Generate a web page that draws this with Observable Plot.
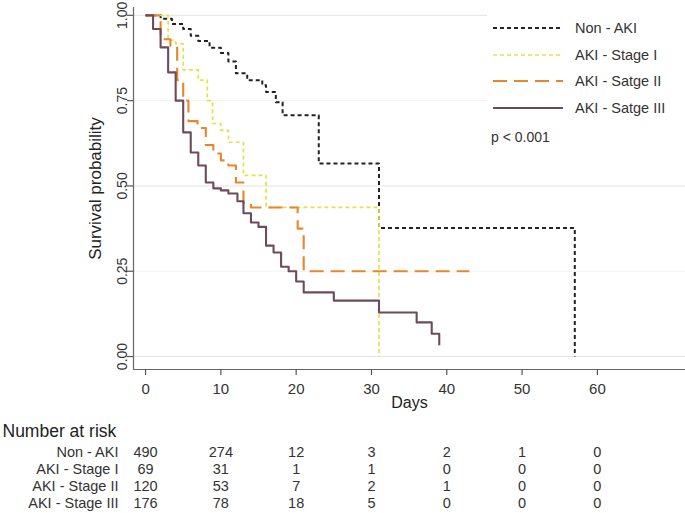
<!DOCTYPE html>
<html>
<head>
<meta charset="utf-8">
<script src="https://cdn.jsdelivr.net/npm/d3@7"></script>
<script src="https://cdn.jsdelivr.net/npm/@observablehq/plot@0.6"></script>
<style>
  body { margin: 0; background: white; font-family: "Liberation Sans", Arial, Helvetica, sans-serif; }
  #wrap { position: relative; width: 685px; height: 513px; overflow: hidden; }
  #wrap svg { display: block; }
  #legend { position: absolute; left: 487px; top: 0px; }
</style>
</head>
<body>
<div id="wrap"></div>
<script>
// ---- data ----
const groupNames = ["Non - AKI", "AKI - Stage I", "AKI - Stage II", "AKI - Stage III"];
const legendNames = ["Non - AKI", "AKI - Stage I", "AKI - Satge II", "AKI - Satge III"];

const nonAkiDays = [0, 2, 3.5, 5, 6, 7, 8.5, 10, 11, 12, 13.5, 15.5, 16, 17.3, 18.2, 23, 31, 57];
const nonAkiSurv = [1, 0.99, 0.975, 0.96, 0.94, 0.925, 0.905, 0.89, 0.865, 0.83, 0.81, 0.795, 0.775, 0.745, 0.707, 0.566, 0.377, 0];

const stage1Days = [0, 3, 4, 5, 7, 8.2, 8.9, 10, 11, 13, 16, 31];
const stage1Surv = [1, 0.927, 0.917, 0.84, 0.81, 0.75, 0.683, 0.663, 0.628, 0.531, 0.437, 0];

const stage2Days = [0, 2, 3.3, 4.2, 5, 5.7, 6.9, 8, 9, 10, 11, 12, 13, 14, 20.2, 21, 43];
const stage2Surv = [1, 0.93, 0.91, 0.81, 0.75, 0.69, 0.67, 0.62, 0.595, 0.575, 0.56, 0.51, 0.45, 0.437, 0.375, 0.25, 0.25];

const stage3Days = [0, 1, 2, 3, 4, 5, 6, 7, 8, 9, 10, 11, 12.2, 13, 14, 15, 16, 17, 18, 19, 20, 21, 25, 31, 36, 38, 39];
const stage3Surv = [1, 0.96, 0.906, 0.833, 0.75, 0.657, 0.598, 0.56, 0.51, 0.493, 0.487, 0.478, 0.455, 0.42, 0.393, 0.38, 0.325, 0.305, 0.263, 0.25, 0.22, 0.188, 0.164, 0.129, 0.1, 0.067, 0.033];

const xTicks = [0, 10, 20, 30, 40, 50, 60];
const yTicks = [0, 0.25, 0.5, 0.75, 1];
const gridMajor = [0, 0.5, 1];
const gridMinor = [0.25, 0.75];

const riskTimes = [0, 10, 20, 30, 40, 50, 60];
const riskNonAki = [490, 274, 12, 3, 2, 1, 0];
const riskStage1 = [69, 31, 1, 1, 0, 0, 0];
const riskStage2 = [120, 53, 7, 2, 1, 0, 0];
const riskStage3 = [176, 78, 18, 5, 0, 0, 0];

const pText = "p < 0.001";

// ---- build tables ----
const curves = [
  {days: nonAkiDays, surv: nonAkiSurv, stroke: "#222222", width: 2, dash: "4,3"},
  {days: stage1Days, surv: stage1Surv, stroke: "#e6e04c", width: 1.7, dash: "4,3"},
  {days: stage2Days, surv: stage2Surv, stroke: "#e8862c", width: 2.1, dash: "14,7"},
  {days: stage3Days, surv: stage3Surv, stroke: "#6d4b5b", width: 2.1, dash: null}
];
const curveRows = curves.map(c => c.days.map((d, i) => ({day: d, surv: c.surv[i]})));

const riskLists = [riskNonAki, riskStage1, riskStage2, riskStage3];
const riskRows = groupNames.flatMap((g, gi) => riskTimes.map((t, i) => ({group: g, day: t, n: riskLists[gi][i]})));

const font = "'Liberation Sans', Arial, Helvetica, sans-serif";
const xDomain = [-1.6, 71.7];
const yDomain = [-0.038, 1.023];

const lineMarks = curves.map((c, i) => Plot.line(curveRows[i], {
  x: "day", y: "surv", curve: "step-after",
  stroke: c.stroke, strokeWidth: c.width,
  strokeDasharray: c.dash || undefined, strokeLinecap: "butt"
}));

const main = Plot.plot({
  width: 685, height: 415,
  marginLeft: 133, marginRight: 0, marginTop: 7, marginBottom: 46,
  x: {domain: xDomain},
  y: {domain: yDomain},
  style: {fontFamily: font, background: "white", color: "#333"},
  marks: [
    Plot.ruleY(gridMajor, {stroke: "#e4e4e4", strokeWidth: 1}),
    Plot.ruleY(gridMinor, {stroke: "#f2f2f2", strokeWidth: 1}),
    ...lineMarks,
    Plot.ruleX([xDomain[0]], {stroke: "#666", strokeWidth: 1.2}),
    Plot.ruleY([yDomain[0]], {stroke: "#666", strokeWidth: 1.2}),
    Plot.axisX({ticks: xTicks, tickSize: 6, tickPadding: 8, fontSize: 15, label: null, stroke: "#555", strokeWidth: 1.2}),
    Plot.axisY({ticks: yTicks, tickSize: 6, tickFormat: () => "", label: null, stroke: "#555", strokeWidth: 1.2}),
    Plot.text(yTicks, {y: d => d, text: d => d.toFixed(2), frameAnchor: "left", textAnchor: "middle", dx: -11, rotate: -90, fontSize: 14, fill: "#333"}),
    Plot.text(["Survival probability"], {text: d => d, frameAnchor: "left", textAnchor: "middle", dx: -38, rotate: -90, fontSize: 17, fill: "#222"}),
    Plot.text(["Days"], {text: d => d, frameAnchor: "bottom", dy: 38, fontSize: 16, fill: "#222"})
  ]
});

const table = Plot.plot({
  width: 685, height: 98,
  marginLeft: 133, marginRight: 0, marginTop: 36, marginBottom: 10,
  x: {domain: xDomain, axis: null},
  y: {type: "point", domain: groupNames, range: [36, 88], padding: 0},
  style: {fontFamily: font, background: "white", color: "#333"},
  marks: [
    Plot.axisY({tickSize: 0, tickPadding: 15, fontSize: 14.5, label: null}),
    Plot.text(riskRows, {x: "day", y: "group", text: d => String(d.n), fontSize: 14.5, fill: "#333"}),
    Plot.text(["Number at risk"], {text: d => d, frameAnchor: "top-left", dx: -131, dy: -20, lineAnchor: "middle", textAnchor: "start", fontSize: 17.5, fill: "#222"})
  ]
});

const wrap = document.getElementById("wrap");
wrap.appendChild(main);
wrap.appendChild(table);

// ---- legend overlay ----
const ns = "http://www.w3.org/2000/svg";
const leg = document.createElementNS(ns, "svg");
leg.setAttribute("id", "legend");
leg.setAttribute("width", 198);
leg.setAttribute("height", 150);
leg.style.background = "white";
const rowY = [28, 55, 81, 108];
curves.forEach((c, i) => {
  const l = document.createElementNS(ns, "line");
  l.setAttribute("x1", 6); l.setAttribute("x2", 76);
  l.setAttribute("y1", rowY[i]); l.setAttribute("y2", rowY[i]);
  l.setAttribute("stroke", c.stroke);
  l.setAttribute("stroke-width", c.width);
  if (c.dash) l.setAttribute("stroke-dasharray", c.dash);
  leg.appendChild(l);
  const t = document.createElementNS(ns, "text");
  t.setAttribute("x", 88); t.setAttribute("y", rowY[i]);
  t.setAttribute("dy", "0.35em");
  t.setAttribute("font-size", 14.5);
  t.setAttribute("font-family", font);
  t.setAttribute("fill", "#333");
  t.textContent = legendNames[i];
  leg.appendChild(t);
});
const pt = document.createElementNS(ns, "text");
pt.setAttribute("x", 4); pt.setAttribute("y", 137);
pt.setAttribute("dy", "0.35em");
pt.setAttribute("font-size", 14);
pt.setAttribute("font-family", font);
pt.setAttribute("fill", "#333");
pt.textContent = pText;
leg.appendChild(pt);
wrap.appendChild(leg);
</script>
</body>
</html>
